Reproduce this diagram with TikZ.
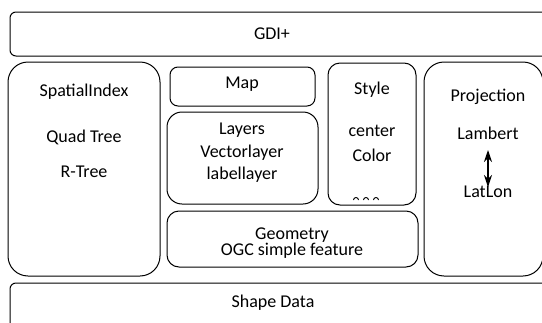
\documentclass[tikz,border=0pt]{standalone}
\usepackage{fontspec}
\setmainfont{Carlito}
\usetikzlibrary{arrows.meta}
\begin{document}
\begin{tikzpicture}[x=1pt,y=-1pt,
  box/.style={draw=black,line width=1pt,inner sep=0pt},
  lbl/.style={inner sep=0pt,font=\fontsize{18}{21}\selectfont,anchor=center},
  ]
\useasboundingbox (0,0) rectangle (542,322);
\clip (0,0) rectangle (542,322);
\fill[white] (0,0) rectangle (542,322);
% boxes
\node[box,rounded corners=6pt,minimum width=540pt,minimum height=44pt] (gdi) at (280,34) {};
\node[box,rounded corners=20pt,minimum width=152pt,minimum height=214pt] (spatial) at (84,169) {};
\node[box,rounded corners=8pt,minimum width=145pt,minimum height=39pt] (map) at (242.5,86.5) {};
\node[box,rounded corners=15pt,minimum width=151pt,minimum height=92pt] (layers) at (242.5,158) {};
\node[box,rounded corners=12pt,minimum width=251pt,minimum height=56pt] (geom) at (292.5,239) {};
\node[box,rounded corners=12pt,minimum width=88pt,minimum height=142pt] (style) at (372,134) {};
\node[box,rounded corners=20pt,minimum width=119pt,minimum height=214pt] (proj) at (483.5,169) {};
\node[box,rounded corners=6pt,minimum width=540pt,minimum height=57pt] (shape) at (280,311.5) {};
% texts
\node[lbl] (tgdi) at (272,34) {GDI+};
\node[lbl] (tsp) at (84,92) {SpatialIndex};
\node[lbl] (tquad) at (84,137) {Quad Tree};
\node[lbl] (trtree) at (84,172) {R-Tree};
\node[lbl] (tmap) at (242,84) {Map};
\node[lbl] (tlay) at (242,130) {Layers};
\node[lbl] (tvec) at (242,153) {Vectorlayer};
\node[lbl] (tlab) at (242,175) {labellayer};
\node[lbl] (tgeo) at (292,235) {Geometry};
\node[lbl] (togc) at (292,251) {OGC simple feature};
\node[lbl] (tsty) at (372,90) {Style};
\node[lbl] (tcen) at (372,131) {center};
\node[lbl] (tcol) at (372,155) {Color};
\node[lbl] (tproj) at (488,97) {Projection};
\node[lbl] (tlam) at (488,133) {Lambert};
\node[lbl] (tlat) at (488,192) {LatLon};
\node[lbl] (tshape) at (273,303) {Shape Data};
% dots cut off
\foreach \dx in {356,366,376}
  \draw[line width=0.9pt] (\dx-2.5,200) arc (180:360:2.5);
% arrow
\coordinate (a1) at (488,150);
\coordinate (a2) at (488,187);
\draw[line width=1.2pt,{Stealth[length=12pt,width=8pt,inset=4pt]}-{Stealth[length=12pt,width=8pt,inset=4pt]}] (a1) -- (a2);
\end{tikzpicture}
\end{document}
